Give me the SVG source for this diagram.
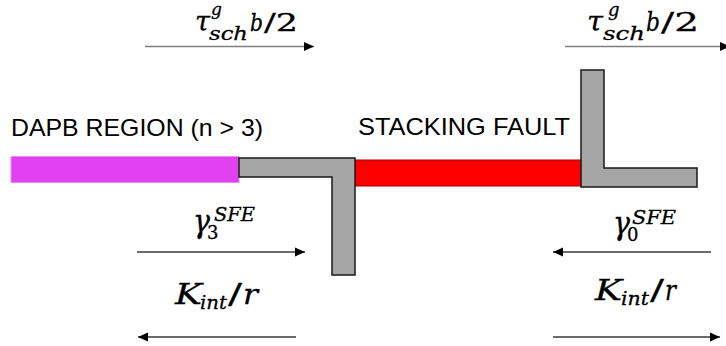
<svg xmlns="http://www.w3.org/2000/svg" width="726" height="346" viewBox="0 0 726 346">
  <style>
    .lbl { font-family: "Liberation Sans", Arial, sans-serif; font-size: 24.5px; fill: #000; }
    .m { font-family: "DejaVu Serif", "Liberation Serif", serif; font-style: italic; fill: #000; stroke: #000; stroke-width: 0.3; }
    .mu { font-family: "DejaVu Serif", "Liberation Serif", serif; font-style: normal; fill: #000; stroke: #000; stroke-width: 0.3; }
    .partial { fill: #A6A6A6; stroke: #1a1a1a; stroke-width: 1.5; stroke-linejoin: miter; }
    .arr-top { stroke: #7f7f7f; stroke-width: 1.6; fill: none; marker-end: url(#ah); }
    .arr-bot { stroke: #3a3a3a; stroke-width: 1.3; fill: none; marker-end: url(#ah); }
  </style>
  <defs>
    <marker id="ah" markerUnits="userSpaceOnUse" markerWidth="10" markerHeight="10" refX="10" refY="5" orient="auto">
      <path d="M0,0.5 L10,5 L0,9.5 z" fill="#000"/>
    </marker>
  </defs>
  <rect width="726" height="346" fill="#fff"/>

  <g id="dapb-region">
    <rect x="11" y="156.5" width="228" height="26" fill="#E040F0" stroke="#E88EEA" stroke-width="1"/>
    <text class="lbl" x="11" y="135.5" textLength="252" lengthAdjust="spacingAndGlyphs">DAPB REGION (n &gt; 3)</text>
  </g>

  <g id="stacking-fault">
    <rect x="355" y="160" width="227" height="26" fill="#FF0000" stroke="#9a0000" stroke-width="1"/>
    <text class="lbl" x="358" y="135" textLength="212" lengthAdjust="spacingAndGlyphs">STACKING FAULT</text>
  </g>

  <g id="left-partial">
    <path class="partial" d="M239,158 L355,158 L355,275 L332,275 L332,177 L239,177 Z"/>
  </g>

  <g id="right-partial">
    <path class="partial" d="M581,70 L604,70 L604,168 L697,168 L697,187 L581,187 Z"/>
  </g>

  <g id="connectors">
    <line class="arr-top" x1="145" y1="46.5" x2="314" y2="46.5"/>
    <line class="arr-top" x1="565" y1="46.5" x2="730" y2="46.5"/>
    <line class="arr-bot" x1="137" y1="252" x2="305" y2="252"/>
    <line class="arr-bot" x1="296" y1="337" x2="138" y2="337"/>
    <line class="arr-bot" x1="711" y1="252" x2="553" y2="252"/>
    <line class="arr-bot" x1="553" y1="337" x2="720" y2="337"/>
  </g>

  <g id="label-tau-left">
    <text class="m" x="195" y="31" font-size="27" textLength="15" lengthAdjust="spacingAndGlyphs">τ</text>
    <text class="m" x="211" y="15" font-size="17">g</text>
    <text class="m" x="209" y="40" font-size="18" textLength="39" lengthAdjust="spacingAndGlyphs">sch</text>
    <text class="m" x="250" y="31" font-size="25" textLength="13" lengthAdjust="spacingAndGlyphs">b</text>
    <text class="mu" x="264" y="31" font-size="25" textLength="34" lengthAdjust="spacingAndGlyphs">/2</text>
  </g>

  <g id="label-tau-right">
    <text class="m" x="587" y="31" font-size="28" textLength="16" lengthAdjust="spacingAndGlyphs">τ</text>
    <text class="m" x="608" y="16" font-size="18">g</text>
    <text class="m" x="603" y="40" font-size="19" textLength="42" lengthAdjust="spacingAndGlyphs">sch</text>
    <text class="m" x="646" y="31" font-size="26" textLength="14" lengthAdjust="spacingAndGlyphs">b</text>
    <text class="mu" x="661" y="31" font-size="26" textLength="38" lengthAdjust="spacingAndGlyphs">/2</text>
  </g>

  <g id="label-gamma3">
    <text class="m" x="193" y="232" font-size="31" textLength="17" lengthAdjust="spacingAndGlyphs">γ</text>
    <text class="mu" x="207" y="239" font-size="18">3</text>
    <text class="m" x="214" y="221" font-size="18" textLength="41" lengthAdjust="spacingAndGlyphs">SFE</text>
  </g>

  <g id="label-gamma0">
    <text class="m" x="613" y="234" font-size="31" textLength="17" lengthAdjust="spacingAndGlyphs">γ</text>
    <text class="mu" x="627" y="241" font-size="18">0</text>
    <text class="m" x="632" y="224" font-size="18" textLength="44" lengthAdjust="spacingAndGlyphs">SFE</text>
  </g>

  <g id="label-kint-left">
    <text class="m" x="175" y="304" font-size="27" textLength="27" lengthAdjust="spacingAndGlyphs">K</text>
    <text class="m" x="200" y="309" font-size="18" textLength="27" lengthAdjust="spacingAndGlyphs">int</text>
    <text class="mu" x="228" y="304" font-size="27" textLength="14" lengthAdjust="spacingAndGlyphs">/</text>
    <text class="m" x="243" y="304" font-size="27" textLength="15" lengthAdjust="spacingAndGlyphs">r</text>
  </g>

  <g id="label-kint-right">
    <text class="m" x="595" y="300" font-size="27" textLength="27" lengthAdjust="spacingAndGlyphs">K</text>
    <text class="m" x="621" y="305" font-size="18" textLength="28" lengthAdjust="spacingAndGlyphs">int</text>
    <text class="mu" x="650" y="300" font-size="27" textLength="14" lengthAdjust="spacingAndGlyphs">/</text>
    <text class="m" x="665" y="300" font-size="27" textLength="11" lengthAdjust="spacingAndGlyphs">r</text>
  </g>
</svg>
